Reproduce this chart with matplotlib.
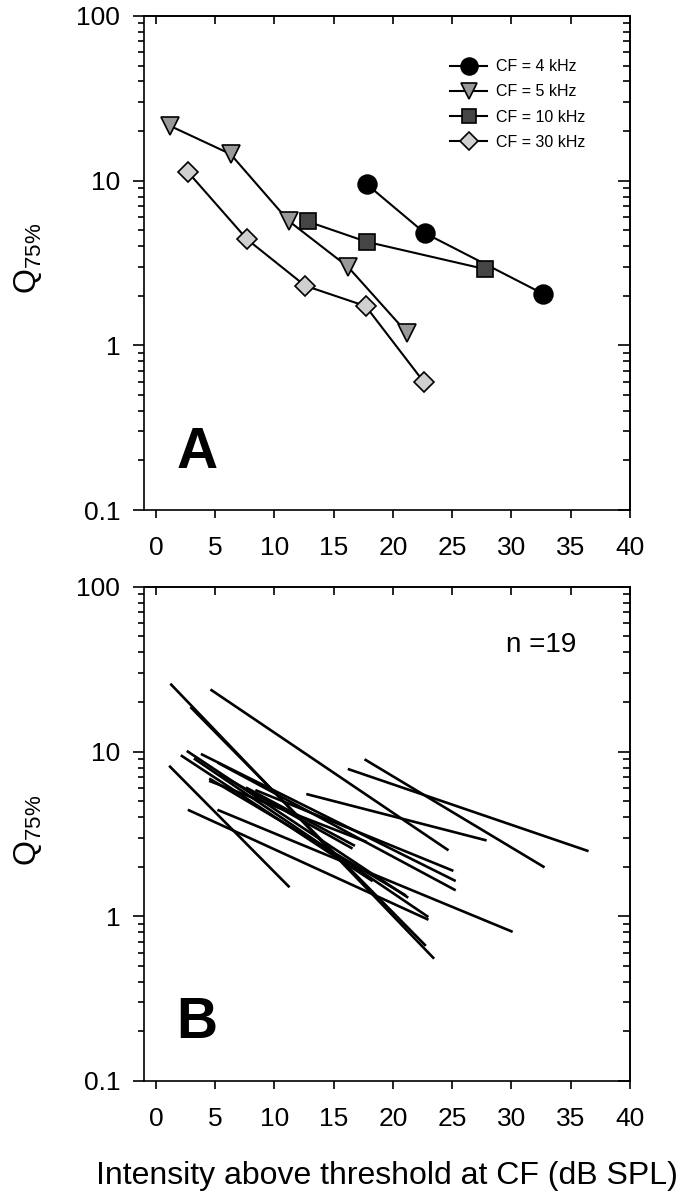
import matplotlib
matplotlib.use('Agg')
import matplotlib.pyplot as plt
from matplotlib.ticker import LogLocator, NullFormatter, FixedLocator, FuncFormatter

plt.rcParams['font.family'] = ['Liberation Sans', 'DejaVu Sans']
plt.rcParams['mathtext.fontset'] = 'custom'
plt.rcParams['mathtext.rm'] = 'Liberation Sans'

# panel A: Q75% vs intensity above threshold, one series per CF
cf4_x = [17.8, 22.7, 32.7]
cf4_q = [9.5, 4.8, 2.05]
cf5_x = [1.2, 6.3, 11.2, 16.2, 21.2]
cf5_q = [21.5, 14.5, 5.7, 3.0, 1.19]
cf10_x = [12.8, 17.8, 27.8]
cf10_q = [5.65, 4.25, 2.9]
cf30_x = [2.7, 7.7, 12.6, 17.7, 22.6]
cf30_q = [11.3, 4.4, 2.3, 1.73, 0.60]

# panel B: 19 fitted lines, start and end of each
b_x0 = [1.3, 3.0, 4.7, 17.7, 16.3, 12.8, 1.2, 2.8, 5.3, 2.7,
        2.2, 3.9, 5.3, 4.6, 4.6, 7.7, 3.3, 5.5, 8.5]
b_q0 = [25.5, 18.4, 23.6, 8.9, 7.8, 5.5, 8.1, 4.4, 4.4, 10.0,
        9.4, 9.6, 8.5, 6.6, 6.8, 6.0, 9.0, 7.2, 5.8]
b_x1 = [23.4, 22.7, 24.6, 32.7, 36.4, 27.8, 11.2, 22.9, 30.0, 21.2,
        18.2, 25.2, 25.2, 17.7, 21.0, 16.7, 22.9, 16.5, 25.0]
b_q1 = [0.56, 0.67, 2.54, 2.0, 2.5, 2.9, 1.52, 0.96, 0.81, 1.31,
        1.65, 1.65, 1.45, 2.84, 1.35, 2.7, 1.0, 2.6, 1.9]

x_ticks = [0, 5, 10, 15, 20, 25, 30, 35, 40]
y_ticks = [0.1, 1, 10, 100]


def style_axes(ax):
    ax.set_yscale('log')
    ax.set_xlim(-1, 40)
    ax.set_ylim(0.1, 100)
    ax.set_xticks(x_ticks)
    ax.yaxis.set_major_locator(FixedLocator(y_ticks))
    ax.yaxis.set_minor_locator(LogLocator(subs=range(2, 10)))
    ax.yaxis.set_major_formatter(FuncFormatter(lambda v, p: f'{v:g}'))
    ax.yaxis.set_minor_formatter(NullFormatter())
    for s in ax.spines.values():
        s.set_linewidth(1.2)
    ax.tick_params(axis='x', direction='out', length=6, width=1.2, labelsize=19, pad=13,
                   top=False)
    ax.tick_params(axis='y', which='major', direction='out', length=8, width=1.2,
                   labelsize=19, pad=9, right=False)
    ax.tick_params(axis='y', which='minor', direction='out', length=4, width=1.2, right=False)

    top = ax.secondary_xaxis('top')
    top.set_xticks(x_ticks)
    top.tick_params(direction='in', length=6, width=1.2, labeltop=False)
    top.spines['top'].set_linewidth(1.2)
    right = ax.secondary_yaxis('right')
    right.yaxis.set_major_locator(FixedLocator(y_ticks))
    right.yaxis.set_minor_locator(LogLocator(subs=range(2, 10)))
    right.tick_params(which='major', direction='in', length=9, width=1.2, labelright=False)
    right.tick_params(which='minor', direction='in', length=5, width=1.2, labelright=False)
    right.spines['right'].set_linewidth(1.2)


fig = plt.figure(figsize=(6.84, 12), dpi=100)
ax_a = fig.add_axes([0.2105, 0.575, 0.7105, 0.4117])
ax_b = fig.add_axes([0.2105, 0.0992, 0.7105, 0.4117])

# panel A
kw = dict(color='black', linewidth=1.5, markeredgecolor='black', markeredgewidth=1.2)
ax_a.plot(cf4_x, cf4_q, marker='o', markersize=13.5, markerfacecolor='black',
          label='CF = 4 kHz', **kw)
ax_a.plot(cf5_x, cf5_q, marker='v', markersize=13, markerfacecolor='#999999',
          label='CF = 5 kHz', **kw)
ax_a.plot(cf10_x, cf10_q, marker='s', markersize=11, markerfacecolor='#454545',
          label='CF = 10 kHz', **kw)
ax_a.plot(cf30_x, cf30_q, marker='D', markersize=9.7, markerfacecolor='#d0d0d0',
          label='CF = 30 kHz', **kw)
style_axes(ax_a)
ax_a.legend(loc='upper left', bbox_to_anchor=(0.63, 0.912), frameon=False,
            fontsize=11.5, borderpad=0, borderaxespad=0, handlelength=2.3,
            handletextpad=0.6, labelspacing=0.63, markerscale=0.9)
ax_a.text(0.067, 0.086, 'A', transform=ax_a.transAxes, fontsize=41,
          fontweight='bold', ha='left', va='baseline')

# panel B
for x0, x1, q0, q1 in zip(b_x0, b_x1, b_q0, b_q1):
    ax_b.plot([x0, x1], [q0, q1], color='black', linewidth=1.9)
style_axes(ax_b)
ax_b.text(0.89, 0.869, 'n =19', transform=ax_b.transAxes, fontsize=20,
          ha='right', va='baseline')
ax_b.text(0.067, 0.086, 'B', transform=ax_b.transAxes, fontsize=41,
          fontweight='bold', ha='left', va='baseline')

ylab = r'Q$_{\mathregular{75\%}}$'
fig.text(28 / 684, 1 - 258 / 1200, ylab, rotation=90, ha='center', va='center', fontsize=23)
fig.text(28 / 684, 1 - 830 / 1200, ylab, rotation=90, ha='center', va='center', fontsize=23)
fig.text(0.5659, 1 - 1176 / 1200, 'Intensity above threshold at CF (dB SPL)',
         ha='center', va='center', fontsize=23)

fig.savefig('out.png', dpi=100)
